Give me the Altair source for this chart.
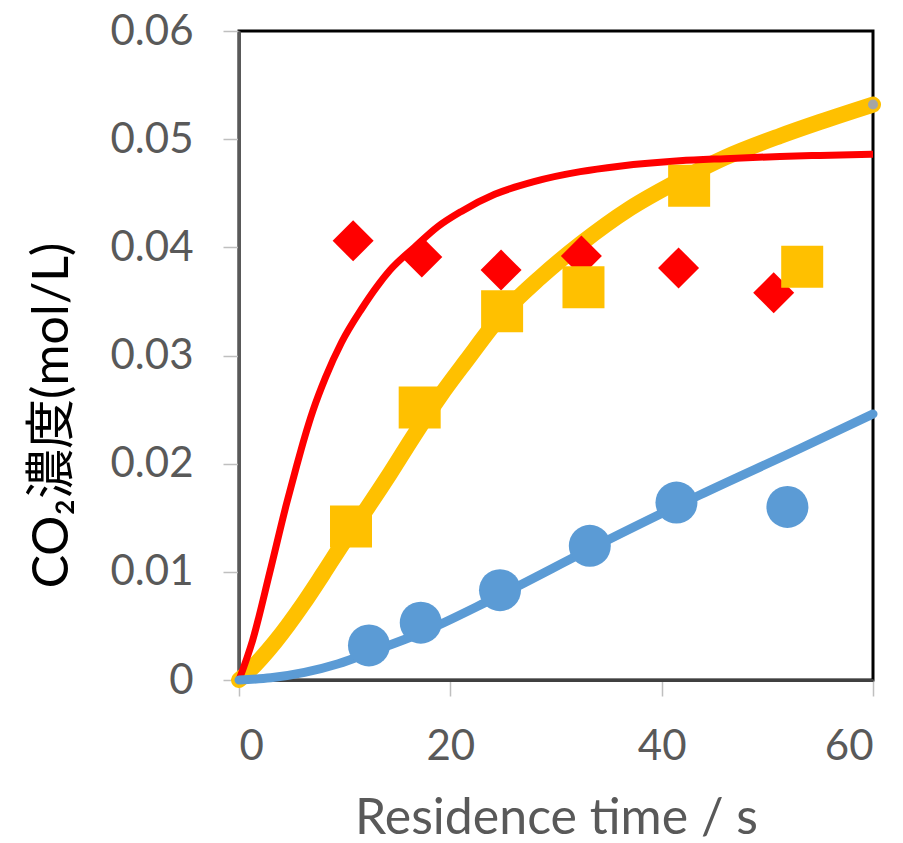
import altair as alt
import pandas as pd

# Model curves (residence time in s, CO2 concentration in mol/L)
red_curve_t = [0, 1.3, 2.9, 4.5, 5.4, 6.2, 7.0, 8.2, 9.7, 11.6, 13.0, 14.3, 16.6, 18.8, 21.0,
               24.2, 28.0, 32.3, 36.0, 41.7, 46.0, 51.2, 55.0, 60.0]
red_curve_c = [0, 0.0037, 0.0099, 0.0163, 0.0196, 0.0224, 0.0249, 0.0280, 0.0312, 0.0343,
               0.0363, 0.0379, 0.0400, 0.0419, 0.0433, 0.0449, 0.0461, 0.0470, 0.0475,
               0.0480, 0.0482, 0.0484, 0.0485, 0.0486]

yellow_curve_t = [0, 0.7, 3.4, 6.05, 7.95, 10.0, 12.2, 14.3, 16.3, 19.0, 21.5, 24.9, 28.5,
                  32.3, 37.0, 41.7, 46.0, 51.2, 55.0, 60.0]
yellow_curve_c = [0, 0.0006, 0.0035, 0.0070, 0.0098, 0.0129, 0.0160, 0.0191, 0.0222, 0.0262,
                  0.0295, 0.0338, 0.0372, 0.0403, 0.0436, 0.0462, 0.0483, 0.0503, 0.0516,
                  0.0532]

blue_curve_t = [0, 3.0, 6.2, 9.4, 12.5, 17.1, 24.0, 34.2, 43.6, 53.1, 60.0]
blue_curve_c = [0, 0.0002, 0.0007, 0.0015, 0.0026, 0.0043, 0.0075, 0.0126, 0.0171, 0.0214,
                0.0246]

# Measured points
red_pts_t = [10.8, 17.3, 24.8, 32.4, 41.6, 50.6]
red_pts_c = [0.0406, 0.0391, 0.0379, 0.0392, 0.0381, 0.0358]

yellow_pts_t = [10.6, 17.1, 24.9, 32.6, 42.6, 53.3]
yellow_pts_c = [0.0142, 0.0252, 0.0341, 0.0363, 0.0457, 0.0382]

blue_pts_t = [12.3, 17.2, 24.7, 33.2, 41.4, 51.9]
blue_pts_c = [0.0032, 0.0053, 0.0083, 0.0124, 0.0164, 0.0160]

end_pt_t = [60.0]
end_pt_c = [0.0532]

x_ticks = [0, 20, 40, 60]
y_ticks = [0, 0.01, 0.02, 0.03, 0.04, 0.05, 0.06]

RED = "#FF0000"
YELLOW = "#FFC000"
BLUE = "#5B9BD5"
GRAY_TXT = "#595959"
FONT = "Lato, 'Noto Sans CJK JP', sans-serif"

W, H = 634, 649


def df(ts, cs):
    return pd.DataFrame({"t": ts, "c": cs})


x_enc = alt.X(
    "t:Q",
    scale=alt.Scale(domain=[0, 60], nice=False, zero=False),
    axis=alt.Axis(
        values=x_ticks,
        title="Residence time / s",
        grid=False,
        labelFont=FONT,
        labelFontSize=42,
        labelColor=GRAY_TXT,
        labelPadding=30,
        tickColor="#bfbfbf",
        tickSize=16,
        tickWidth=1.5,
        domainColor="#404040",
        domainWidth=3,
        titleFont=FONT,
        titleFontSize=50,
        titleFontWeight="normal",
        titleColor=GRAY_TXT,
        titleX=W / 2,
        titleY=153,
        titleAlign="center",
        titleBaseline="alphabetic",
    ),
)

y_enc = alt.Y(
    "c:Q",
    scale=alt.Scale(domain=[0, 0.06], nice=False, zero=False),
    axis=alt.Axis(
        values=y_ticks,
        title="CO₂濃度(mol/L)",
        grid=False,
        labelExpr="datum.value == 0 ? '0' : format(datum.value, '.2f')",
        labelFont=FONT,
        labelFontSize=42,
        labelColor=GRAY_TXT,
        labelPadding=30,
        tickColor="#bfbfbf",
        tickSize=16,
        tickWidth=1.5,
        domainColor="#595959",
        domainWidth=3,
        titleFont=FONT,
        titleFontSize=50,
        titleFontWeight="normal",
        titleColor="black",
        titleAngle=270,
        titleX=-172,
        titleY=384,
        titleAlign="center",
        titleBaseline="alphabetic",
    ),
)

yellow_line = alt.Chart(df(yellow_curve_t, yellow_curve_c)).mark_line(
    color=YELLOW, strokeWidth=16, strokeCap="round", strokeJoin="round", interpolate="monotone"
).encode(x=x_enc, y=y_enc)

red_line = alt.Chart(df(red_curve_t, red_curve_c)).mark_line(
    color=RED, strokeWidth=7, strokeJoin="round", interpolate="monotone"
).encode(x=x_enc, y=y_enc)

red_points = alt.Chart(df(red_pts_t, red_pts_c)).mark_point(
    shape="diamond", filled=True, color=RED, opacity=1, size=1681
).encode(x=x_enc, y=y_enc)

yellow_points = alt.Chart(df(yellow_pts_t, yellow_pts_c)).mark_point(
    shape="square", filled=True, color=YELLOW, opacity=1, size=1764
).encode(x=x_enc, y=y_enc)

blue_line = alt.Chart(df(blue_curve_t, blue_curve_c)).mark_line(
    color=BLUE, strokeWidth=9, strokeCap="round", strokeJoin="round", interpolate="monotone"
).encode(x=x_enc, y=y_enc)

blue_points = alt.Chart(df(blue_pts_t, blue_pts_c)).mark_point(
    shape="circle", filled=True, color=BLUE, opacity=1, size=1764
).encode(x=x_enc, y=y_enc)

end_point = alt.Chart(df(end_pt_t, end_pt_c)).mark_point(
    shape="circle", filled=True, color="#A5A5A5", opacity=1, size=100
).encode(x=x_enc, y=y_enc)

chart = (
    alt.layer(yellow_line, red_line, red_points, yellow_points, blue_line, blue_points, end_point)
    .properties(
        width=W,
        height=H,
        autosize=alt.AutoSizeParams(type="none"),
        padding={"left": 239, "top": 31, "right": 30, "bottom": 163},
        background="white",
    )
    .configure_view(stroke="black", strokeWidth=3)
)

chart.save("out.html", embed_options={"renderer": "svg", "actions": False})
